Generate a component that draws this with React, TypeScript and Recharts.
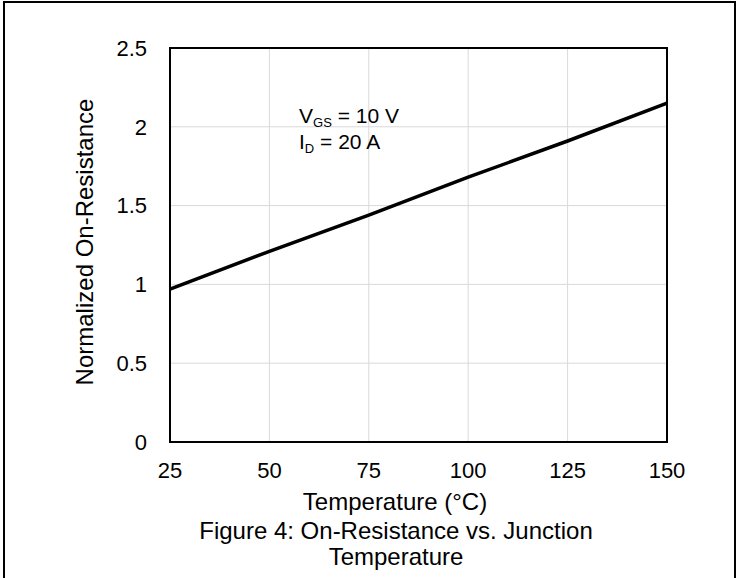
import { LineChart, Line, XAxis, YAxis, CartesianGrid, ReferenceArea, Customized } from 'recharts';

const temps = [25, 50, 75, 100, 125, 150];
const resistance = [0.97, 1.21, 1.44, 1.68, 1.91, 2.15];
const xTicks = [25, 50, 75, 100, 125, 150];
const yTicks = [0, 0.5, 1, 1.5, 2, 2.5];

const data = temps.map((t, i) => ({
  temp: t,
  value: resistance[i]
}));

const font = '"Liberation Sans", Arial, sans-serif';

const Texts = () => {
  return <g fontFamily={font} fill="#000">
      <text x={299} y={123} fontSize={21}>
        V<tspan fontSize={13} dy={4}>GS</tspan><tspan dy={-4}> = 10 V</tspan>
      </text>
      <text x={299} y={149} fontSize={21}>
        I<tspan fontSize={13} dy={4}>D</tspan><tspan dy={-4}> = 20 A</tspan>
      </text>
      <text transform="translate(93,242) rotate(-90)" textAnchor="middle" fontSize={24}>
        Normalized On-Resistance
      </text>
      <text x={395} y={510} textAnchor="middle" fontSize={24}>Temperature (°C)</text>
      <text x={396} y={539} textAnchor="middle" fontSize={24}>Figure 4: On-Resistance vs. Junction</text>
      <text x={396} y={565} textAnchor="middle" fontSize={24}>Temperature</text>
    </g>;
};

const App = () => {
  return <div style={{
    position: 'absolute',
    left: 0,
    top: 0,
    width: 739,
    height: 578,
    overflow: 'hidden',
    background: '#fff'
  }}>
      <div style={{
      position: 'absolute',
      left: 3,
      top: 1,
      width: 729,
      height: 700,
      border: '2px solid #000'
    }} />
      <LineChart width={739} height={578} data={data} margin={{
      top: 48,
      right: 72,
      bottom: 96,
      left: 0
    }} style={{
      position: 'absolute',
      left: 0,
      top: 0
    }}>
        <CartesianGrid stroke="#d9d9d9" strokeWidth={1} />
        <XAxis dataKey="temp" type="number" domain={[25, 150]} ticks={xTicks} height={40} axisLine={false} tickLine={false} tickSize={0} tickMargin={20} tick={{
        fontSize: 22,
        fill: '#000',
        fontFamily: font
      }} />
        <YAxis type="number" domain={[0, 2.5]} ticks={yTicks} width={170} axisLine={false} tickLine={false} tickSize={0} tickMargin={23} tick={{
        fontSize: 22,
        fill: '#000',
        fontFamily: font
      }} />
        <ReferenceArea x1={25} x2={150} y1={0} y2={2.5} fill="none" stroke="#000" strokeWidth={2} />
        <Line type="linear" dataKey="value" stroke="#000" strokeWidth={3.5} dot={false} isAnimationActive={false} />
        <Customized component={<Texts />} />
      </LineChart>
    </div>;
};

export default App;
